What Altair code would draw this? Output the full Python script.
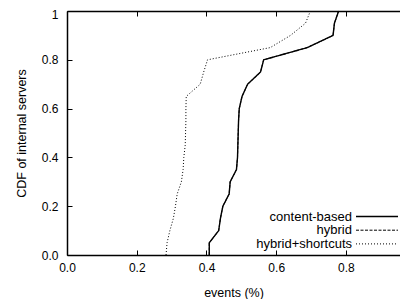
import altair as alt
import pandas as pd

cdf = [0.0, 0.05, 0.10, 0.15, 0.20, 0.25, 0.30, 0.35, 0.40, 0.45, 0.50,
       0.55, 0.60, 0.65, 0.70, 0.75, 0.80, 0.85, 0.90, 0.95, 1.0]
content_based = [0.408, 0.408, 0.435, 0.44, 0.447, 0.465, 0.468, 0.486, 0.489, 0.49, 0.491,
                 0.492, 0.494, 0.502, 0.518, 0.555, 0.564, 0.689, 0.763, 0.767, 0.779]
hybrid = list(content_based)
hybrid_shortcuts = [0.284, 0.287, 0.295, 0.305, 0.311, 0.316, 0.328, 0.333, 0.335, 0.339, 0.340,
                    0.341, 0.341, 0.342, 0.382, 0.392, 0.403, 0.583, 0.641, 0.684, 0.698]
series = ["content-based", "hybrid", "hybrid+shortcuts"]
x_ticks = [0, 0.2, 0.4, 0.6, 0.8]
y_ticks = [0, 0.2, 0.4, 0.6, 0.8, 1.0]

rows = []
for name, vals in zip(series, [content_based, hybrid, hybrid_shortcuts]):
    for i, (xv, yv) in enumerate(zip(vals, cdf)):
        rows.append({"series": name, "x": xv, "y": yv, "order": i})
df = pd.DataFrame(rows)

FONT = "Liberation Sans"
xscale = alt.Scale(domain=[0, 0.955], nice=False, zero=False)
yscale = alt.Scale(domain=[0, 1], nice=False)

dash_map = {"content-based": [1, 0], "hybrid": [3, 1.5], "hybrid+shortcuts": [1, 2]}
width_map = {"content-based": 1.4, "hybrid": 1.0, "hybrid+shortcuts": 1.0}

def line_layer(name, x_axis, y_axis, opacity=1.0):
    return alt.Chart(df[df.series == name]).mark_line(
        color="black", strokeDash=dash_map[name], strokeWidth=width_map[name],
        opacity=opacity, interpolate="linear"
    ).encode(
        x=alt.X("x:Q", scale=xscale, axis=x_axis),
        y=alt.Y("y:Q", scale=yscale, axis=y_axis),
        order="order:Q",
    )

main_x = alt.Axis(values=x_ticks, tickSize=0, labelPadding=7, domainColor="black",
                  domainWidth=1.5, labelFont=FONT, labelFontSize=12, labelColor="black",
                  title="events (%)", titleFont=FONT, titleFontSize=12.5, titleFontWeight="normal",
                  titleColor="black", titlePadding=13, grid=False, labelFlush=False)
main_y = alt.Axis(values=y_ticks, tickSize=0, labelPadding=9, domainColor="black",
                  domainWidth=1.5, labelFont=FONT, labelFontSize=12, labelColor="black",
                  labelOffset={"condition": {"test": "datum.value == 1", "value": 3}, "value": 0},
                  title="CDF of internal servers", titleFont=FONT, titleFontSize=12.5,
                  titleFontWeight="normal", titleColor="black", titlePadding=13, grid=False,
                  labelFlush=False, labelExpr="datum.value == 1 ? '1' : datum.label")

tick_x = alt.Axis(values=x_ticks, orient="bottom", offset=-5, tickSize=5, tickColor="black",
                  tickWidth=1, domain=False, labels=False, title=None, grid=False)
tick_y = alt.Axis(values=y_ticks, orient="left", offset=-5, tickSize=5, tickColor="black",
                  tickWidth=1, domain=False, labels=False, title=None, grid=False)
top_ticks = alt.Axis(values=x_ticks, orient="top", offset=-5, tickSize=5, tickColor="black",
                     tickWidth=1, domain=False, labels=False, title=None, grid=False)
top_dom = alt.Axis(orient="top", domain=True, domainColor="black", domainWidth=1.5, ticks=False,
                   labels=False, title=None, grid=False)

l_hybrid = line_layer("hybrid", main_x, main_y)
l_content = line_layer("content-based", tick_x, tick_y)
l_short = line_layer("hybrid+shortcuts", top_ticks, None)
l_top = line_layer("hybrid+shortcuts", top_dom, None, opacity=0)

# legend (drawn inside plot, labels left of samples, gnuplot style)
leg = pd.DataFrame({"series": series})
leg_y0 = 205.5
leg_dy = 13.7

texts = []
rules = []
for i, name in enumerate(series):
    yy = leg_y0 + i * leg_dy
    sub = leg[leg.series == name]
    texts.append(alt.Chart(sub).mark_text(align="right", baseline="middle", font=FONT,
                                          fontSize=13, color="black").encode(
        x=alt.value(285), y=alt.value(yy), text="series:N"))
    rules.append(alt.Chart(sub).mark_rule(color="black", strokeDash=dash_map[name],
                                          strokeWidth=width_map[name]).encode(
        x=alt.value(289), x2=alt.value(331), y=alt.value(yy)))

chart = alt.layer(l_hybrid, l_content, l_short, l_top, *texts, *rules).resolve_axis(
    x="independent", y="independent"
).properties(
    width=333, height=244,
    autosize=alt.AutoSizeParams(type="none"),
    padding={"left": 59, "top": 3, "right": 0, "bottom": 44},
).configure_view(stroke=None).configure(background="white")

chart.save("out.html", embed_options={"renderer": "svg", "actions": False})
